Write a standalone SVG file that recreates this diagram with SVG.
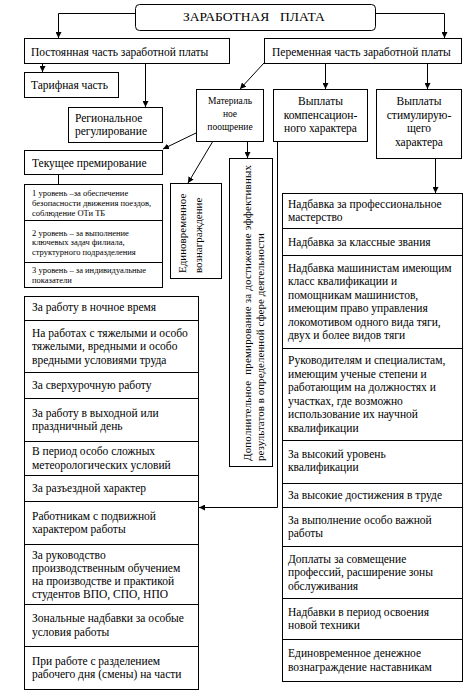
<svg xmlns="http://www.w3.org/2000/svg" width="474" height="695" viewBox="0 0 474 695">
<style>
.b{fill:#fff;stroke:#000;stroke-width:1}
.l{fill:none;stroke:#000;stroke-width:1}
text{font-family:"Liberation Serif","Times New Roman",serif;fill:#000}
.t{font-size:11.5px}
.s{font-size:8.5px}
.m{font-size:9.5px}
.r{font-size:11px}
.h{font-size:13.5px}
.ctr{text-anchor:middle}
</style>
<defs>
<marker id="ar" markerUnits="userSpaceOnUse" markerWidth="7" markerHeight="6" refX="6" refY="3" orient="auto">
<path d="M0,0 L6,3 L0,6 z" fill="#000"/>
</marker>
</defs>
<rect width="474" height="695" fill="#fff"/>

<g id="connectors" class="l">
<path d="M135.5,13.5 H58.5 V38" marker-end="url(#ar)"/>
<path d="M375.5,13.5 H444.5 V38" marker-end="url(#ar)"/>
<path d="M42.5,63 V72" marker-end="url(#ar)"/>
<path d="M145.5,63 V107" marker-end="url(#ar)"/>
<path d="M264,63 L240,89" marker-end="url(#ar)"/>
<path d="M325.5,63 V89" marker-end="url(#ar)"/>
<path d="M427.5,63 V89" marker-end="url(#ar)"/>
<path d="M196,133 L163,149" marker-end="url(#ar)"/>
<path d="M213,141 L188,183" marker-end="url(#ar)"/>
<path d="M247.5,141 V158" marker-end="url(#ar)"/>
<path d="M435.5,158 V193" marker-end="url(#ar)"/>
<path d="M58.5,174 V184"/>
<path d="M277.5,141 V507.5 H199" marker-end="url(#ar)"/>
</g>

<g id="title">
<rect class="b" x="135.5" y="4.5" width="240" height="26" rx="4"/>
<text class="h" x="183" y="21">ЗАРАБОТНАЯ</text>
<text class="h" x="280" y="21">ПЛАТА</text>
</g>

<g id="const">
<rect class="b" x="24.5" y="38.5" width="205" height="25"/>
<text class="t" x="31" y="56">Постоянная часть заработной платы</text>
</g>

<g id="var">
<rect class="b" x="264.5" y="38.5" width="197" height="25"/>
<text class="t" x="272" y="56">Переменная часть заработной платы</text>
</g>

<g id="tarif">
<rect class="b" x="24.5" y="72.5" width="94" height="25"/>
<text class="t" x="31" y="89">Тарифная часть</text>
</g>

<g id="region">
<rect class="b" x="68.5" y="107.5" width="94" height="35"/>
<text class="t" x="75" y="122">Региональное</text>
<text class="t" x="75" y="135">регулирование</text>
</g>

<g id="material">
<rect class="b" x="196.5" y="89.5" width="67" height="52"/>
<text class="m ctr" x="230" y="103.5">Материаль</text>
<text class="m ctr" x="230" y="116.5">ное</text>
<text class="m ctr" x="230" y="130">поощрение</text>
</g>

<g id="comp">
<rect class="b" x="273.5" y="89.5" width="94" height="52"/>
<text class="t ctr" x="320.5" y="105">Выплаты</text>
<text class="t ctr" x="320.5" y="119">компенсацион-</text>
<text class="t ctr" x="320.5" y="132">ного характера</text>
</g>

<g id="stim">
<rect class="b" x="376.5" y="89.5" width="85" height="69"/>
<text class="t ctr" x="419" y="105">Выплаты</text>
<text class="t ctr" x="419" y="119">стимулирую-</text>
<text class="t ctr" x="419" y="132">щего</text>
<text class="t ctr" x="419" y="146">характера</text>
</g>

<g id="current">
<rect class="b" x="24.5" y="150.5" width="138" height="24"/>
<text class="t" x="32" y="167">Текущее премирование</text>
</g>

<g id="levels">
<rect class="b" x="24.5" y="184.5" width="138" height="103"/>
<path class="l" d="M24.5,220.5 H162.5 M24.5,262.5 H162.5"/>
<text class="s" x="32" y="196">1 уровень –за обеспечение</text>
<text class="s" x="32" y="206">безопасности движения поездов,</text>
<text class="s" x="32" y="216">соблюдение ОТи ТБ</text>
<text class="s" x="32" y="235.5">2 уровень – за выполнение</text>
<text class="s" x="32" y="245">ключевых задач филиала,</text>
<text class="s" x="32" y="254.5">структурного подразделения</text>
<text class="s" x="32" y="273">3 уровень – за индивидуальные</text>
<text class="s" x="32" y="282.5">показатели</text>
</g>

<g id="onetime">
<rect class="b" x="170.5" y="183.5" width="51" height="95"/>
<text class="r" transform="translate(186,273) rotate(-90)">Единовременное</text>
<text class="r" transform="translate(202,273) rotate(-90)">вознаграждение</text>
</g>

<g id="additional">
<rect class="b" x="229.5" y="158.5" width="43" height="308"/>
<text class="r" transform="translate(251,461) rotate(-90)" textLength="296" style="white-space:pre">Дополнительное  премирование за достижение эффективных</text>
<text class="r" transform="translate(264,461) rotate(-90)" textLength="228">результатов в определенной сфере деятельности</text>
</g>

<g id="comp-list">
<rect class="b" x="24.5" y="296.5" width="174" height="393"/>
<path class="l" d="M24.5,320.5 H198.5 M24.5,372.5 H198.5 M24.5,398.5 H198.5 M24.5,441.5 H198.5 M24.5,475.5 H198.5 M24.5,501.5 H198.5 M24.5,544.5 H198.5 M24.5,604.5 H198.5 M24.5,646.5 H198.5"/>
<text class="t" x="32" y="311">За работу в ночное время</text>
<text class="t" x="32" y="336.5">На работах с  тяжелыми и особо</text>
<text class="t" x="32" y="350">тяжелыми, вредными  и особо</text>
<text class="t" x="32" y="363.5">вредными условиями труда</text>
<text class="t" x="32" y="389">За сверхурочную работу</text>
<text class="t" x="32" y="416.5">За работу в выходной или</text>
<text class="t" x="32" y="430">праздничный день</text>
<text class="t" x="32" y="455">В период особо сложных</text>
<text class="t" x="32" y="468.5">метеорологических условий</text>
<text class="t" x="32" y="492">За разъездной характер</text>
<text class="t" x="32" y="519.5">Работникам с  подвижной</text>
<text class="t" x="32" y="533">характером работы</text>
<text class="t" x="32" y="559">За руководство</text>
<text class="t" x="32" y="572">производственным обучением</text>
<text class="t" x="32" y="585">на производстве и практикой</text>
<text class="t" x="32" y="598">студентов ВПО, СПО, НПО</text>
<text class="t" x="32" y="622">Зональные надбавки за особые</text>
<text class="t" x="32" y="635.5">условия работы</text>
<text class="t" x="32" y="664.5">При работе с разделением</text>
<text class="t" x="32" y="678">рабочего дня (смены) на части</text>
</g>

<g id="stim-list">
<rect class="b" x="282.5" y="193.5" width="180" height="488"/>
<path class="l" d="M282.5,228.5 H462.5 M282.5,255.5 H462.5 M282.5,348.5 H462.5 M282.5,440.5 H462.5 M282.5,483.5 H462.5 M282.5,507.5 H462.5 M282.5,546.5 H462.5 M282.5,598.5 H462.5 M282.5,639.5 H462.5"/>
<text class="t" x="288" y="207.5">Надбавка за профессиональное</text>
<text class="t" x="288" y="221">мастерство</text>
<text class="t" x="288" y="245.5">Надбавка за классные звания</text>
<text class="t" x="288" y="271.5">Надбавка машинистам имеющим</text>
<text class="t" x="288" y="285">класс квалификации и</text>
<text class="t" x="288" y="298.5">помощникам машинистов,</text>
<text class="t" x="288" y="312">имеющим право управления</text>
<text class="t" x="288" y="325.5">локомотивом одного вида тяги,</text>
<text class="t" x="288" y="339">двух и более видов тяги</text>
<text class="t" x="288" y="364">Руководителям и специалистам,</text>
<text class="t" x="288" y="377.5">имеющим ученые степени и</text>
<text class="t" x="288" y="391">работающим на должностях и</text>
<text class="t" x="288" y="404.5">участках, где возможно</text>
<text class="t" x="288" y="418">использование их научной</text>
<text class="t" x="288" y="431.5">квалификации</text>
<text class="t" x="288" y="458">За высокий уровень</text>
<text class="t" x="288" y="471">квалификации</text>
<text class="t" x="288" y="499">За высокие достижения в труде</text>
<text class="t" x="288" y="523.5">За выполнение особо важной</text>
<text class="t" x="288" y="537">работы</text>
<text class="t" x="288" y="562.5">Доплаты за совмещение</text>
<text class="t" x="288" y="576">профессий, расширение зоны</text>
<text class="t" x="288" y="589.5">обслуживания</text>
<text class="t" x="288" y="615.5">Надбавки в период освоения</text>
<text class="t" x="288" y="629">новой техники</text>
<text class="t" x="288" y="657">Единовременное денежное</text>
<text class="t" x="288" y="670.5">вознаграждение наставникам</text>
</g>
</svg>
